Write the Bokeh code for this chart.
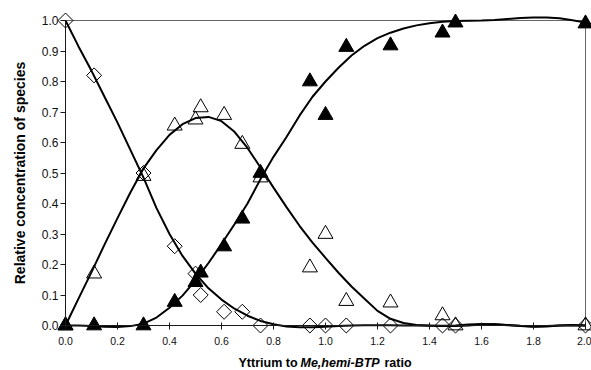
from bokeh.plotting import figure
from bokeh.models import Range1d, Label, NumeralTickFormatter, FixedTicker
from bokeh.embed import file_html
from bokeh.resources import INLINE
import math

# ---------------- data ----------------
x_ticks = [0.0, 0.2, 0.4, 0.6, 0.8, 1.0, 1.2, 1.4, 1.6, 1.8, 2.0]
y_ticks = [0.0, 0.1, 0.2, 0.3, 0.4, 0.5, 0.6, 0.7, 0.8, 0.9, 1.0]

# free ligand (open diamonds)
lig_x = [0.0, 0.11, 0.30, 0.42, 0.50, 0.52, 0.61, 0.68, 0.75, 0.94, 1.00, 1.08, 1.25, 1.45, 1.50, 2.00]
lig_y = [1.0, 0.82, 0.50, 0.26, 0.17, 0.10, 0.045, 0.045, 0.0, 0.0, 0.0, 0.0, 0.0, 0.0, 0.0, 0.0]

# 1:1 complex (open triangles)
ml_x = [0.0, 0.11, 0.30, 0.42, 0.50, 0.52, 0.61, 0.68, 0.75, 0.94, 1.00, 1.08, 1.25, 1.45, 1.50, 2.00]
ml_y = [0.0, 0.17, 0.49, 0.655, 0.675, 0.715, 0.69, 0.595, 0.485, 0.19, 0.30, 0.08, 0.075, 0.033, 0.0, 0.0]

# second complex (filled triangles)
ml2_x = [0.0, 0.11, 0.30, 0.42, 0.50, 0.52, 0.61, 0.68, 0.75, 0.94, 1.00, 1.08, 1.25, 1.45, 1.50, 2.00]
ml2_y = [0.0, 0.0, 0.0, 0.077, 0.142, 0.173, 0.259, 0.35, 0.50, 0.80, 0.69, 0.913, 0.918, 0.96, 0.993, 0.99]

# fitted curves
curve_x = [0.00, 0.05, 0.10, 0.15, 0.20, 0.25, 0.30, 0.35, 0.40, 0.45,
           0.50, 0.55, 0.60, 0.65, 0.70, 0.75, 0.80, 0.85, 0.90, 0.95,
           1.00, 1.05, 1.10, 1.15, 1.20, 1.25, 1.30, 1.35, 1.40, 1.45,
           1.50, 1.55, 1.60, 1.65, 1.70, 1.75, 1.80, 1.85, 1.90, 1.95, 2.00]
lig_fit = [1.000, 0.915, 0.835, 0.750, 0.665, 0.575, 0.485, 0.385, 0.300, 0.228,
           0.170, 0.122, 0.085, 0.055, 0.032, 0.015, 0.004, -0.003, -0.006, -0.006,
           -0.004, -0.002, 0.000, 0.001, 0.001, 0.001, 0.000, 0.000, 0.000, -0.001,
           -0.002, 0.000, 0.003, 0.004, 0.002, -0.001, -0.003, -0.002, 0.000, 0.001, 0.000]
ml_fit = [0.000, 0.088, 0.175, 0.265, 0.352, 0.437, 0.515, 0.575, 0.625, 0.660,
          0.680, 0.684, 0.670, 0.635, 0.582, 0.518, 0.452, 0.388, 0.327, 0.272,
          0.222, 0.173, 0.128, 0.088, 0.048, 0.022, 0.008, 0.002, -0.001, -0.002,
          0.000, 0.003, 0.005, 0.004, 0.001, -0.002, -0.004, -0.003, 0.000, 0.002, 0.000]
ml2_fit = [0.000, 0.000, -0.002, -0.004, -0.005, -0.002, 0.006, 0.026, 0.058, 0.098,
           0.148, 0.205, 0.267, 0.332, 0.400, 0.480, 0.553, 0.618, 0.688, 0.750,
           0.800, 0.845, 0.885, 0.917, 0.942, 0.960, 0.974, 0.984, 0.991, 0.996,
           0.998, 0.999, 1.000, 1.002, 1.005, 1.008, 1.010, 1.010, 1.007, 1.001, 0.993]

x_title = ["Yttrium to", "Me,hemi-BTP", "ratio"]
y_title = "Relative concentration of species"

# ---------------- layout ----------------
W, H = 591, 370
OX, OY = 65.0, 325.0   # pixel position of data origin
PX_X = 260.0           # pixels per x unit
PX_Y = 305.0           # pixels per y unit
x0, x1 = x_ticks[0], x_ticks[-1]
y0, y1 = y_ticks[0], y_ticks[-1]

def dx(px):
    return x0 + (px - OX) / PX_X

def dy(py):
    return y0 + (OY - py) / PX_Y

p = figure(width=W, height=H, output_backend="svg", toolbar_location=None,
           x_range=Range1d(dx(0), dx(W)), y_range=Range1d(dy(H), dy(0)),
           min_border_left=0, min_border_right=0, min_border_top=0, min_border_bottom=0)
p.title.text = ""
p.grid.visible = False
p.outline_line_color = None
p.background_fill_color = "white"
p.border_fill_color = "white"

for ax, ticks, lo, hi in ((p.xaxis[0], x_ticks, x0, x1), (p.yaxis[0], y_ticks, y0, y1)):
    ax.fixed_location = 0
    ax.bounds = (lo, hi)
    ax.ticker = FixedTicker(ticks=ticks)
    ax.formatter = NumeralTickFormatter(format="0.0")
    ax.minor_tick_line_color = None
    ax.axis_line_color = "#1a1a1a"
    ax.major_tick_line_color = "#1a1a1a"
    ax.major_label_text_font = "Liberation Sans"
    ax.major_label_text_color = "#111111"

p.xaxis.major_tick_in = 3
p.xaxis.major_tick_out = 4
p.xaxis.major_label_standoff = 7
p.xaxis.major_label_text_font_size = "10.5px"
p.yaxis.major_tick_in = 0
p.yaxis.major_tick_out = 5
p.yaxis.major_label_standoff = 2
p.yaxis.major_label_text_font_size = "12px"

# plot-area frame (top and right edges)
p.segment(x0=[x0, x1], y0=[y1, y0], x1=[x1, x1], y1=[y1, y1], line_color="#666666", line_width=1)

# fitted curves
for fit in (lig_fit, ml_fit, ml2_fit):
    p.line(curve_x, fit, line_color="black", line_width=2)

# markers
p.scatter(lig_x, lig_y, marker="square", size=10.6, angle=math.pi / 4,
          fill_color=None, line_color="black", line_width=1)
p.scatter(ml_x, ml_y, marker="triangle", size=15,
          fill_color=None, line_color="black", line_width=1)
p.scatter(ml2_x, ml2_y, marker="triangle", size=15,
          fill_color="black", line_color="black", line_width=1)

# axis titles
for txt, px, style in zip(x_title, (238, 300, 384), ("bold", "bold italic", "bold")):
    p.add_layout(Label(x=dx(px), y=dy(362.5), text=txt, text_font="Liberation Sans",
                       text_font_size="12.5px", text_font_style=style, text_color="black",
                       text_align="left", text_baseline="middle"))
p.add_layout(Label(x=dx(19.8), y=dy(172.5), text=y_title, angle=math.pi / 2,
                   text_font="Liberation Sans", text_font_size="14px", text_font_style="bold",
                   text_color="black", text_align="center", text_baseline="middle"))

open("out.html", "w").write(file_html(p, INLINE))
